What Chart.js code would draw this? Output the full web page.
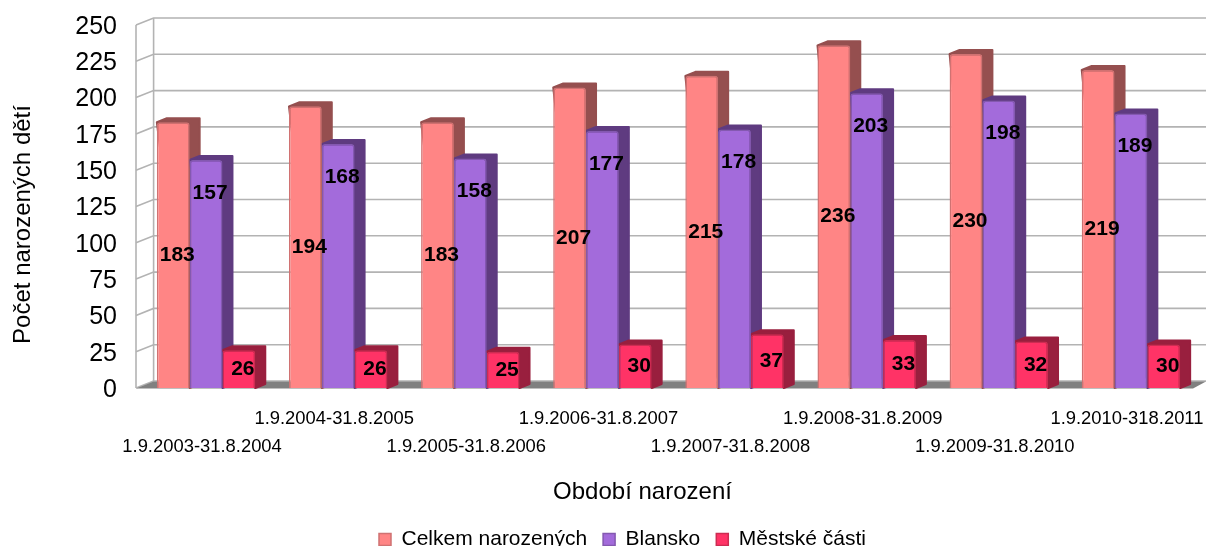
<!DOCTYPE html>
<html><head><meta charset="utf-8">
<style>html,body{margin:0;padding:0;background:#fff}canvas{display:block}</style>
<script src="https://cdn.jsdelivr.net/npm/chart.js@4"></script></head>
<body><canvas id="c" width="1206" height="546"></canvas>
<script>
const categories=["1.9.2003-31.8.2004","1.9.2004-31.8.2005","1.9.2005-31.8.2006","1.9.2006-31.8.2007","1.9.2007-31.8.2008","1.9.2008-31.8.2009","1.9.2009-31.8.2010","1.9.2010-318.2011"];
const celkem=[183,194,183,207,215,236,230,219];
const blansko=[157,168,158,177,178,203,198,189];
const mestske=[26,26,25,30,37,33,32,30];
const sideColors=['#954F4F','#5F3B80','#991F3E'];
const FONT='"Liberation Sans",Arial,sans-serif';
const WALL={dx:17.6,dy:7,inset:4}, BAR={dx:10,dy:4};
function shiftTitle(scale,dx,dy){
  if(scale._shifted)return;scale._shifted=true;
  const orig=scale.drawTitle.bind(scale);
  scale.drawTitle=function(){const c=scale.ctx;c.save();c.translate(dx,dy);orig();c.restore();};
}
const scene={id:'scene',
 beforeDraw(ch){shiftTitle(ch.scales.y,1,18);shiftTitle(ch.scales.x,-26,0);},
 beforeDatasetsDraw(ch){
  const c=ch.ctx,a=ch.chartArea,y=ch.scales.y,L=a.left-WALL.inset,R=a.right-WALL.inset,bx=L+WALL.dx;
  c.save();c.strokeStyle='#B3B3B3';c.lineWidth=1.6;
  y.ticks.forEach(t=>{const p=y.getPixelForValue(t.value);
   c.beginPath();c.moveTo(L,p);c.lineTo(bx,p-WALL.dy);c.lineTo(1206,p-WALL.dy);c.stroke();});
  c.beginPath();c.moveTo(L,y.top);c.lineTo(L,y.bottom);c.moveTo(bx,y.top-WALL.dy);c.lineTo(bx,y.bottom-WALL.dy);c.stroke();
  const b=y.bottom+0.5;c.fillStyle='#808080';c.beginPath();c.moveTo(L,b);c.lineTo(bx,b-WALL.dy);c.lineTo(1206,b-WALL.dy);c.lineTo(R,b);c.closePath();c.fill();
  c.lineWidth=2;c.lineJoin='round';
  ch.data.datasets.forEach((d,i)=>{c.fillStyle=c.strokeStyle=sideColors[i];
   ch.getDatasetMeta(i).data.forEach(e=>{const l=e.x-e.width/2,r=e.x+e.width/2,t=e.y,bb=e.base;
    c.beginPath();c.moveTo(l,t);c.lineTo(l+BAR.dx,t-BAR.dy);c.lineTo(r+BAR.dx,t-BAR.dy);c.lineTo(r+BAR.dx,bb-BAR.dy);c.lineTo(r,bb);c.closePath();c.fill();c.stroke();});});
  c.restore();
 },
 afterDatasetsDraw(ch){
  const c=ch.ctx;c.save();c.fillStyle='#000';c.font='bold 21px '+FONT;c.textAlign='center';c.textBaseline='middle';
  ch.data.datasets.forEach((d,i)=>ch.getDatasetMeta(i).data.forEach((e,j)=>{
    const py=i===1?e.y+33:(e.y+e.base)/2;
    c.fillText(String(d.data[j]),e.x+4,py);}));
  c.restore();
 }};
new Chart(document.getElementById('c'),{type:'bar',
 data:{labels:categories.map((s,i)=>i%2?[s,'']:['',s]),datasets:[
  {label:'Celkem narozených',data:celkem,backgroundColor:'#FF8585',borderColor:'#D07272'},
  {label:'Blansko',data:blansko,backgroundColor:'#A36BDB',borderColor:'#8459B0'},
  {label:'Městské části',data:mestske,backgroundColor:'#FF3366',borderColor:'#CC2C52'}]},
 options:{responsive:false,animation:false,
  layout:{padding:{left:0,right:-39,top:25,bottom:-14}},
  datasets:{bar:{barPercentage:1,categoryPercentage:0.745,borderWidth:1.5,borderRadius:3}},
  plugins:{tooltip:{enabled:false},
   legend:{position:'bottom',labels:{font:{family:FONT,size:21},color:'#000',boxWidth:12,boxHeight:12,padding:16}}},
  scales:{
   x:{grid:{display:false},border:{display:false},afterFit(s){s.height=125;s.paddingLeft=0;s.paddingRight=9;},
    ticks:{autoSkip:false,maxRotation:0,minRotation:0,labelOffset:-4,padding:9,color:'#000',font:{family:FONT,size:18.4,lineHeight:1.52}},
    title:{display:true,text:'Období narození',color:'#000',font:{family:FONT,size:24},padding:{top:18,bottom:6}}},
   y:{min:0,max:250,grid:{display:false},border:{display:false},afterFit(s){s.width=140;s.paddingTop=0;s.paddingBottom=0;},
    ticks:{stepSize:25,padding:15,labelOffset:2,color:'#000',font:{family:FONT,size:25}},
    title:{display:true,text:'Počet narozených dětí',color:'#000',font:{family:FONT,size:24},padding:{top:8,bottom:8}}}
  }},plugins:[scene]});
</script></body></html>
